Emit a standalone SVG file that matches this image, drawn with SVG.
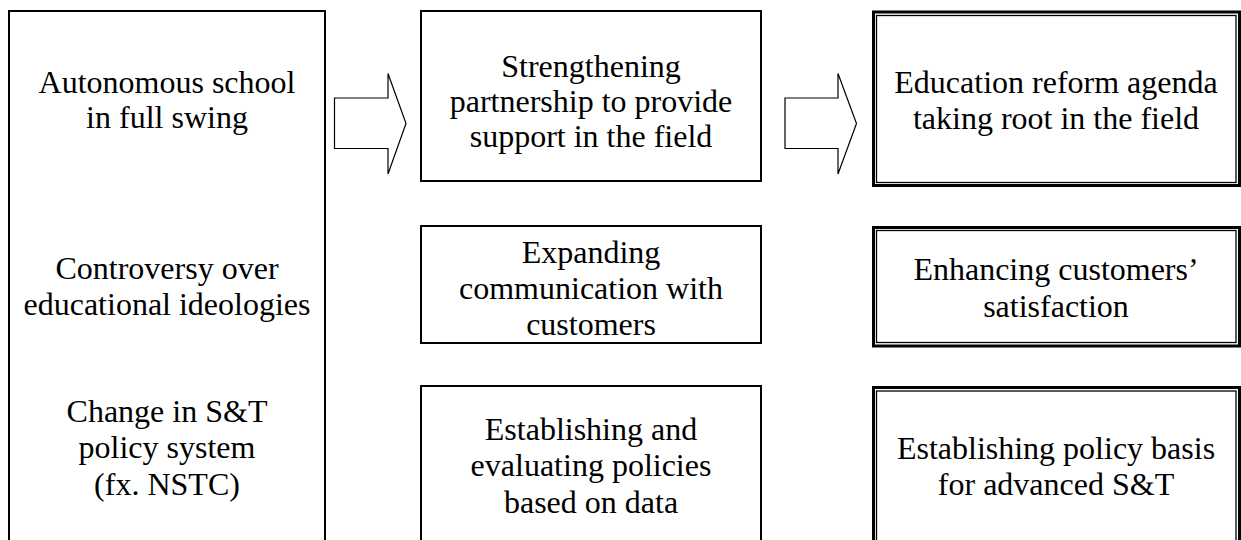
<svg xmlns="http://www.w3.org/2000/svg" width="1241" height="540" viewBox="0 0 1241 540">
<style>
  .box { fill: #fff; stroke: #000; stroke-width: 2; }
  .outer { fill: #fff; stroke: #000; stroke-width: 3; }
  .inner { fill: none; stroke: #000; stroke-width: 1.3; }
  .arrow { fill: #fff; stroke: #000; stroke-width: 1.2; stroke-linejoin: miter; }
  text { font-family: "Liberation Serif", "Times New Roman", serif; font-size: 32px; fill: #000; text-anchor: middle; }
</style>
<rect x="0" y="0" width="1241" height="540" fill="#fff"/>

<g id="context">
  <rect class="box" x="9" y="11" width="316" height="540"/>
  <text x="167" y="92.5">Autonomous school</text>
  <text x="167" y="127.5">in full swing</text>
  <text x="167" y="279">Controversy over</text>
  <text x="167" y="315">educational ideologies</text>
  <text x="167" y="421.5">Change in S&amp;T</text>
  <text x="167" y="458">policy system</text>
  <text x="167" y="494.5">(fx. NSTC)</text>
</g>

<g id="connectors">
  <polygon class="arrow" points="334.5,98 388,98 388,73.5 406,123.5 388,174 388,148.5 334.5,148.5"/>
  <polygon class="arrow" points="785,98 838,98 838,73.5 856.5,123.5 838,174 838,148.5 785,148.5"/>
</g>

<g id="strategy1">
  <rect class="box" x="421" y="11" width="340" height="170"/>
  <text x="591" y="77">Strengthening</text>
  <text x="591" y="112">partnership to provide</text>
  <text x="591" y="147">support in the field</text>
</g>

<g id="strategy2">
  <rect class="box" x="421" y="226" width="340" height="117"/>
  <text x="591" y="263">Expanding</text>
  <text x="591" y="299">communication with</text>
  <text x="591" y="335">customers</text>
</g>

<g id="strategy3">
  <rect class="box" x="421" y="386" width="340" height="170"/>
  <text x="591" y="439.5">Establishing and</text>
  <text x="591" y="476">evaluating policies</text>
  <text x="591" y="512.5">based on data</text>
</g>

<g id="goal1">
  <rect class="outer" x="873.5" y="12" width="366" height="173.5"/>
  <rect class="inner" x="876.5" y="15.5" width="359.5" height="167"/>
  <text x="1056" y="92.5">Education reform agenda</text>
  <text x="1056" y="128.5">taking root in the field</text>
</g>

<g id="goal2">
  <rect class="outer" x="873.5" y="227.5" width="366" height="118.5"/>
  <rect class="inner" x="876.5" y="230.5" width="359.5" height="112"/>
  <text x="1056" y="280">Enhancing customers’</text>
  <text x="1056" y="316.5">satisfaction</text>
</g>

<g id="goal3">
  <rect class="outer" x="873.5" y="387.5" width="366" height="170"/>
  <rect class="inner" x="876.5" y="391" width="359.5" height="170"/>
  <text x="1056" y="458.5">Establishing policy basis</text>
  <text x="1056" y="495">for advanced S&amp;T</text>
</g>
</svg>
